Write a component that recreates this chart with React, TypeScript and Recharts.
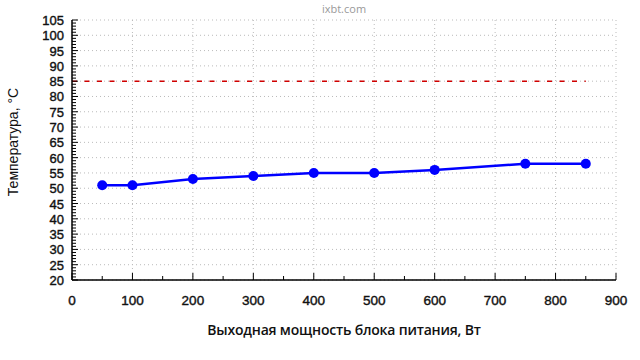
import React from 'react';
import { LineChart, Line, XAxis, YAxis, CartesianGrid, ReferenceLine } from 'recharts';

const powerW = [50, 100, 200, 300, 400, 500, 600, 750, 850];
const tempC = [51, 51, 53, 54, 55, 55, 56, 58, 58];
const limitC = 85;
const limitEndW = 850;

const xTicks = [0, 50, 100, 150, 200, 250, 300, 350, 400, 450, 500, 550, 600, 650, 700, 750, 800, 850, 900];
const xMajor = [0, 100, 200, 300, 400, 500, 600, 700, 800, 900];
const yTicks = Array.from({ length: 86 }, (_, i) => 20 + i);
const yMajor = [20, 25, 30, 35, 40, 45, 50, 55, 60, 65, 70, 75, 80, 85, 90, 95, 100, 105];

const data = powerW.map((p, i) => ({ p, t: tempC[i] }));

const tickFont = "'Liberation Sans', Arial, sans-serif";
const labelFont = "'Open Sans', sans-serif";

const YTick = (props: any) => {
  const { x, y, payload } = props;
  const v = payload.value;
  const major = yMajor.includes(v);
  return (
    <g>
      <line x1={x} x2={x + (major ? 6 : 4)} y1={y} y2={y} stroke="#000" strokeWidth={1} />
      {major && (
        <text x={x - 8} y={y} dy={5} textAnchor="end" fontSize={13} fontFamily={tickFont} fill="#111" stroke="#111" strokeWidth={0.4}>
          {v}
        </text>
      )}
    </g>
  );
};

const XTick = (props: any) => {
  const { x, y, payload } = props;
  const v = payload.value;
  const major = xMajor.includes(v);
  return (
    <g>
      <line x1={x} x2={x} y1={y} y2={y - (major ? 7 : 4)} stroke="#000" strokeWidth={1} />
      {major && (
        <text x={x} y={y + 25} textAnchor="middle" fontSize={13.5} fontFamily={tickFont} fill="#111" stroke="#111" strokeWidth={0.4}>
          {v}
        </text>
      )}
    </g>
  );
};

export default function App() {
  return (
    <div style={{ position: 'absolute', left: 0, top: 0, width: 640, height: 360, background: '#fff' }}>
      <LineChart width={640} height={360} data={data} margin={{ top: 20, right: 24, left: 0, bottom: 0 }}>
        <CartesianGrid
          stroke="#bbb"
          strokeDasharray="1 3"
          horizontalValues={yMajor}
          verticalValues={xMajor}
        />
        <XAxis
          dataKey="p"
          type="number"
          domain={[0, 900]}
          ticks={xTicks}
          interval={0}
          height={80}
          tickSize={0}
          tickMargin={0}
          tick={<XTick />}
          axisLine={{ stroke: '#000', strokeWidth: 1.5 }}
          tickLine={false}
          allowDataOverflow
        />
        <YAxis
          type="number"
          domain={[20, 105]}
          ticks={yTicks}
          interval={0}
          width={72}
          tickSize={0}
          tickMargin={0}
          tick={<YTick />}
          axisLine={{ stroke: '#000', strokeWidth: 1.5 }}
          tickLine={false}
          allowDataOverflow
        />
        <ReferenceLine
          segment={[{ x: 0, y: limitC }, { x: limitEndW, y: limitC }]}
          stroke="#d00000"
          strokeDasharray="5 7.5"
          strokeWidth={1.4}
        />
        <Line
          dataKey="t"
          stroke="#0000ff"
          strokeWidth={2.5}
          dot={{ r: 5, fill: '#0000ff', stroke: '#0000ff', strokeWidth: 0 }}
          isAnimationActive={false}
        />
      </LineChart>
      <div style={{ position: 'absolute', left: 244, width: 200, top: 1, textAlign: 'center', fontFamily: labelFont, fontSize: 11, color: '#999' }}>
        ixbt.com
      </div>
      <div style={{ position: 'absolute', left: 144, width: 400, top: 320, textAlign: 'center', fontFamily: labelFont, fontSize: 14, fontWeight: 600, letterSpacing: -0.2, color: '#111', whiteSpace: 'nowrap' }}>
        Выходная мощность блока питания, Вт
      </div>
      <div style={{ position: 'absolute', left: 13, top: 142, width: 0, height: 0 }}>
        <div style={{ position: 'absolute', left: -100, top: -10, width: 200, height: 20, lineHeight: '20px', textAlign: 'center', transform: 'rotate(-90deg)', fontFamily: "'Liberation Sans', Arial, sans-serif", fontSize: 14, color: '#111', whiteSpace: 'nowrap' }}>
          Температура, °C
        </div>
      </div>
    </div>
  );
}
